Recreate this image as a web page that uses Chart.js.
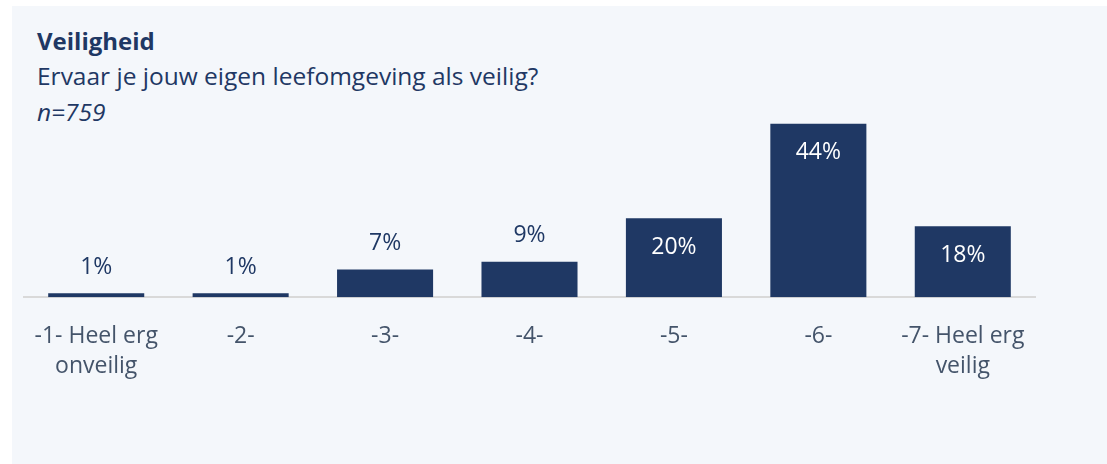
<!DOCTYPE html>
<html>
<head>
<meta charset="utf-8">
<script src="https://cdn.jsdelivr.net/npm/chart.js@4.4.1/dist/chart.umd.min.js"></script>
<style>
  html, body { margin: 0; padding: 0; background: #ffffff; }
  body { width: 1107px; height: 464px; position: relative; overflow: hidden; font-family: "Open Sans", sans-serif; }
  .panel { position: absolute; left: 12px; top: 6px; right: 0; bottom: 0; background: #f4f7fb; }
  .title { position: absolute; left: 37px; color: #1f3864; white-space: nowrap; line-height: 1; }
  #t1 { top: 29px; font-size: 24px; font-weight: bold; }
  #t2 { top: 64px; font-size: 24.5px; }
  #t3 { top: 100px; font-size: 24.5px; font-style: italic; }
  #wrap { position: absolute; left: 0; top: 0; width: 1107px; height: 464px; }
</style>
</head>
<body>
<div class="panel"></div>
<div class="title" id="t1">Veiligheid</div>
<div class="title" id="t2">Ervaar je jouw eigen leefomgeving als veilig?</div>
<div class="title" id="t3">n=759</div>
<div id="wrap"><canvas id="chart"></canvas></div>
<script>
const categories = [["-1- Heel erg", "onveilig"], "-2-", "-3-", "-4-", "-5-", "-6-", ["-7- Heel erg", "veilig"]];
const values = [1, 1, 7, 9, 20, 44, 18];
const valueLabels = ["1%", "1%", "7%", "9%", "20%", "44%", "18%"];

const navy = "#1f3864";

// labels: inside the bar (white) for the big ones, above the bar otherwise
const barLabels = {
  id: "barLabels",
  afterDatasetsDraw(chart) {
    const ctx = chart.ctx;
    const meta = chart.getDatasetMeta(0);
    ctx.save();
    ctx.font = "23px 'Open Sans', sans-serif";
    ctx.textAlign = "center";
    ctx.textBaseline = "middle";
    meta.data.forEach((bar, i) => {
      if (values[i] >= 15) {
        ctx.fillStyle = "#ffffff";
        ctx.fillText(valueLabels[i], bar.x, bar.y + 29);
      } else {
        ctx.fillStyle = navy;
        ctx.fillText(valueLabels[i], bar.x, bar.y - 26);
      }
    });
    ctx.restore();
  }
};

new Chart(document.getElementById("chart"), {
  type: "bar",
  data: {
    labels: categories,
    datasets: [{
      data: values,
      backgroundColor: navy,
      borderWidth: 0,
      categoryPercentage: 1,
      barPercentage: 0.665
    }]
  },
  options: {
    responsive: true,
    maintainAspectRatio: false,
    animation: false,
    layout: { padding: { top: 100, left: 24, right: 72, bottom: 59 } },
    plugins: {
      legend: { display: false },
      tooltip: { enabled: false }
    },
    scales: {
      x: {
        grid: { display: false, drawTicks: false },
        border: { color: "#d9d9d9", width: 2 },
        ticks: {
          color: "#44546a",
          font: { family: "'Open Sans', sans-serif", size: 23, lineHeight: 1.3 },
          padding: 24,
          maxRotation: 0,
          autoSkip: false
        }
      },
      y: {
        display: false,
        min: 0,
        max: 50
      }
    }
  },
  plugins: [barLabels]
});
</script>
</body>
</html>
